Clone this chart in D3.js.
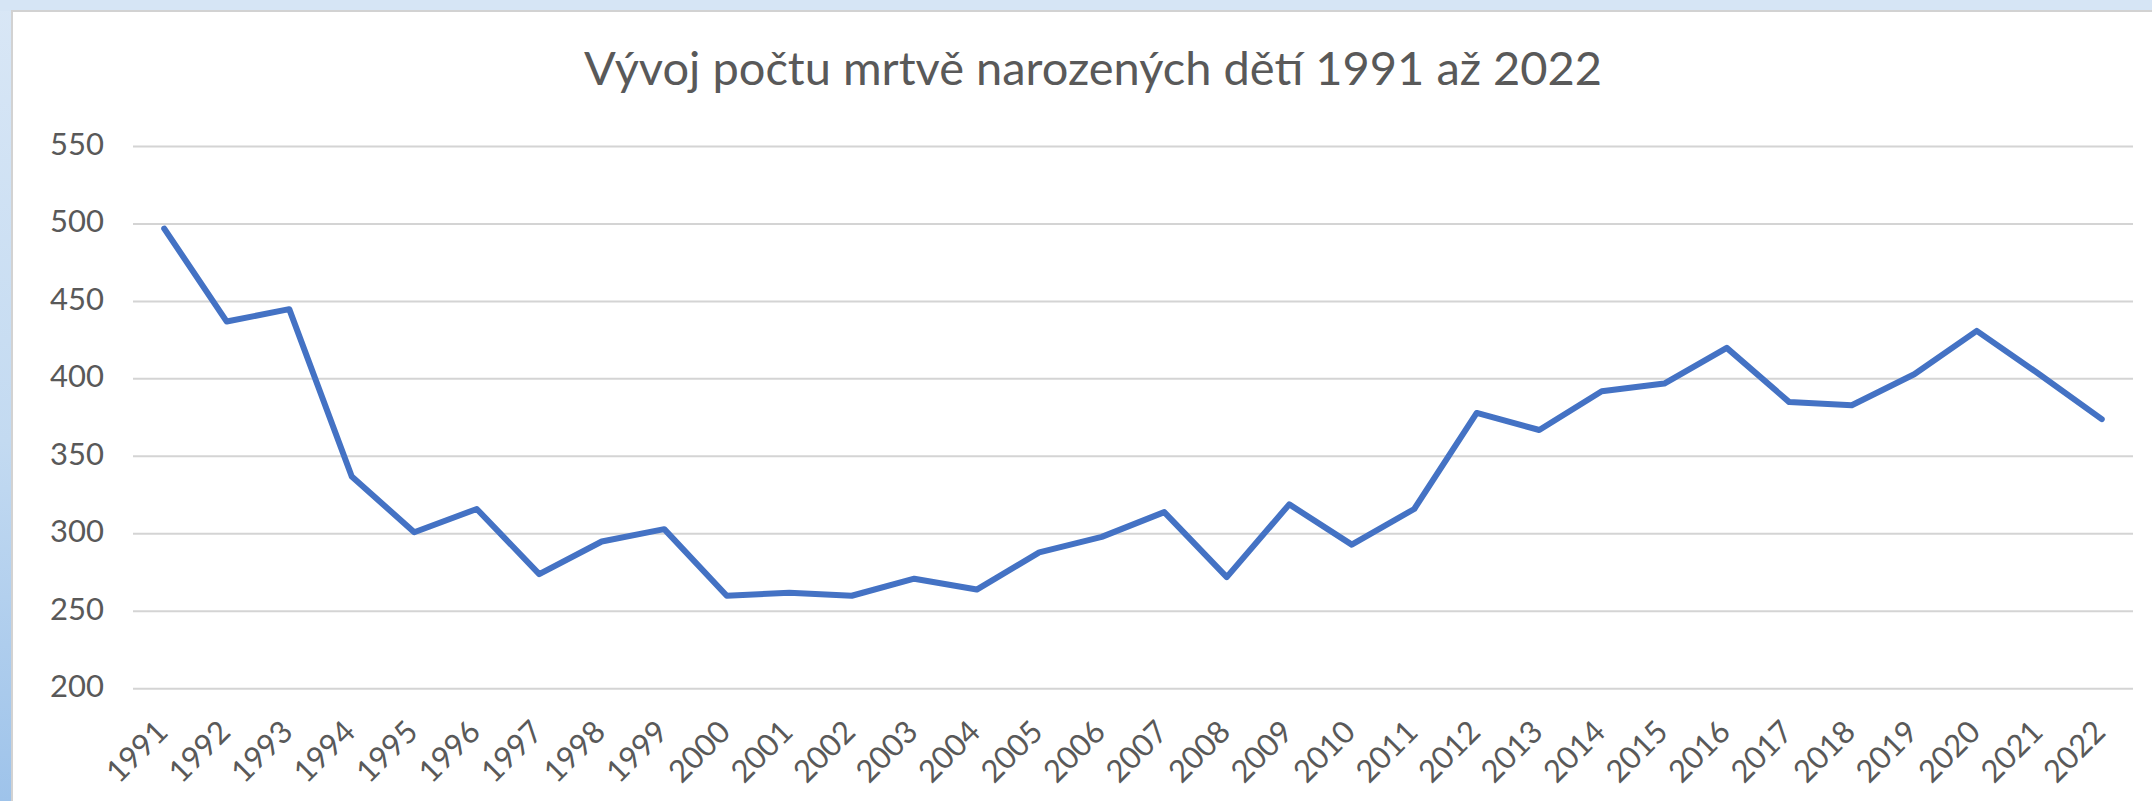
<!DOCTYPE html>
<html lang="cs">
<head>
<meta charset="utf-8">
<script src="https://cdn.jsdelivr.net/npm/d3@7"></script>
<style>
  html, body { margin: 0; padding: 0; background: #ffffff; }
  svg { display: block; }
  text { font-family: Lato, "Open Sans", "DejaVu Sans", sans-serif; fill: #595959; }
</style>
</head>
<body>
<svg id="chart" width="2152" height="801"></svg>
<script>
// Počet mrtvě narozených dětí v ČR, 1991–2022
const years = ["1991","1992","1993","1994","1995","1996","1997","1998","1999","2000",
               "2001","2002","2003","2004","2005","2006","2007","2008","2009","2010",
               "2011","2012","2013","2014","2015","2016","2017","2018","2019","2020",
               "2021","2022"];
const stillbirths = [497, 437, 445, 337, 301, 316, 274, 295, 303, 260,
                     262, 260, 271, 264, 288, 298, 314, 272, 319, 293,
                     316, 378, 367, 392, 397, 420, 385, 383, 403, 431,
                     403, 374];
const yTicks = [200, 250, 300, 350, 400, 450, 500, 550];
const titleText = "Vývoj počtu mrtvě narozených dětí 1991 až 2022";

const W = 2152, H = 801;
const plot = { left: 133, right: 2133, top: 146.5, bottom: 688.7 };

const svg = d3.select("#chart");

// window frame: light blue strip along the top and a blue gradient on the left
const defs = svg.append("defs");
const grad = defs.append("linearGradient")
  .attr("id", "sideGrad").attr("x1", 0).attr("y1", 0).attr("x2", 0).attr("y2", 1);
grad.append("stop").attr("offset", "0%").attr("stop-color", "#d9e7f6");
grad.append("stop").attr("offset", "55%").attr("stop-color", "#c3daf1");
grad.append("stop").attr("offset", "100%").attr("stop-color", "#9ec3ea");

svg.append("rect").attr("x", 0).attr("y", 0).attr("width", W).attr("height", H)
  .attr("fill", "url(#sideGrad)");
svg.append("rect").attr("x", 0).attr("y", 0).attr("width", W).attr("height", 11)
  .attr("fill", "#d6e5f5");

// chart area
svg.append("rect")
  .attr("x", 12).attr("y", 11).attr("width", W + 20).attr("height", H + 20)
  .attr("fill", "#ffffff").attr("stroke", "#d2d2d2").attr("stroke-width", 2);

// scales
const x = d3.scalePoint().domain(years).range([plot.left, plot.right]).padding(0.5);
const y = d3.scaleLinear().domain([200, 550]).range([plot.bottom, plot.top]);

// horizontal gridlines
svg.append("g").attr("class", "grid")
  .selectAll("line").data(yTicks).join("line")
  .attr("x1", plot.left).attr("x2", plot.right)
  .attr("y1", d => y(d)).attr("y2", d => y(d))
  .attr("stroke", "#d4d4d4").attr("stroke-width", 2);

// y axis labels
const yAxis = svg.append("g")
  .attr("transform", `translate(${plot.left},0)`)
  .call(d3.axisLeft(y).tickValues(yTicks).tickSize(0).tickPadding(29));
yAxis.select(".domain").remove();
yAxis.selectAll("text")
  .attr("dy", null).attr("y", 8)
  .style("font-size", "31px").style("font-family", "Lato, sans-serif").attr("fill", "#595959");

// x axis labels, rotated 45°
const xAxis = svg.append("g")
  .attr("transform", `translate(0,${plot.bottom})`)
  .call(d3.axisBottom(x).tickSize(0));
xAxis.select(".domain").remove();
xAxis.selectAll("text")
  .attr("x", 0).attr("y", 0).attr("dy", null)
  .attr("text-anchor", "end")
  .attr("transform", "translate(5,45) rotate(-45)")
  .style("font-size", "31px").style("font-family", "Lato, sans-serif").attr("fill", "#595959");

// series line
const line = d3.line()
  .x((d, i) => x(years[i]))
  .y(d => y(d));
svg.append("path")
  .datum(stillbirths)
  .attr("d", line)
  .attr("fill", "none")
  .attr("stroke", "#4472c4")
  .attr("stroke-width", 6)
  .attr("stroke-linejoin", "round")
  .attr("stroke-linecap", "round");

// title
svg.append("text")
  .attr("x", 1093).attr("y", 85)
  .attr("text-anchor", "middle")
  .style("font-size", "47px")
  .attr("fill", "#595959")
  .text(titleText);
</script>
</body>
</html>
